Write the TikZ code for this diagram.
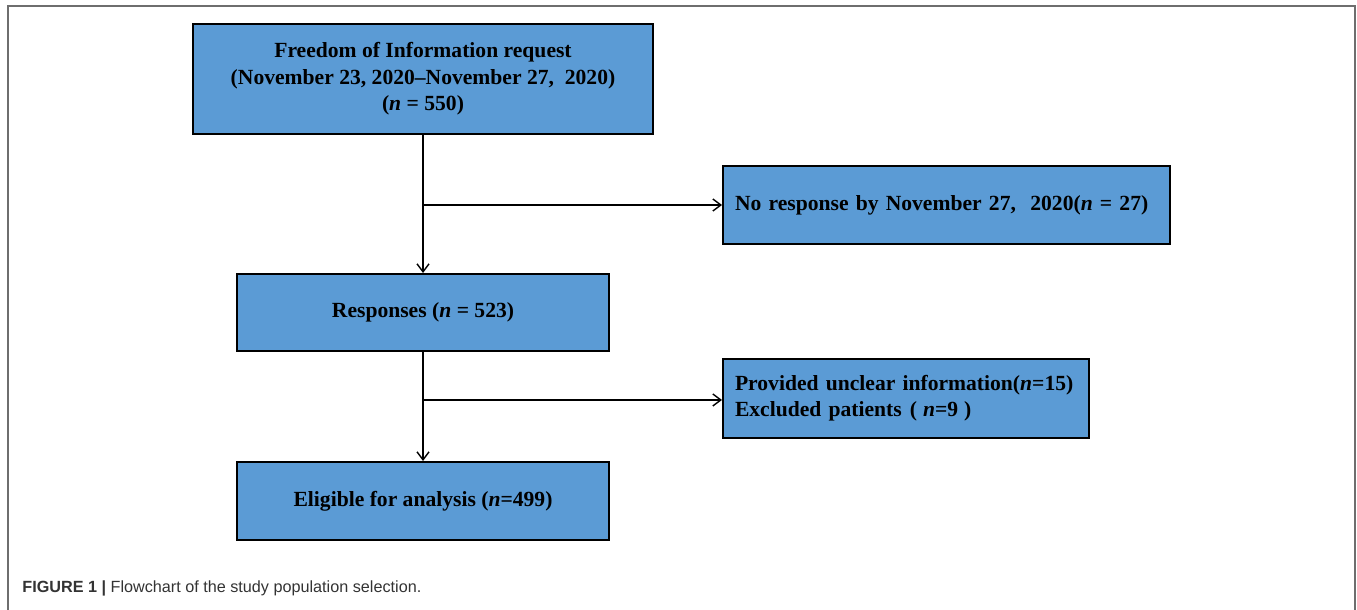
\documentclass[tikz,border=0pt]{standalone}
\usepackage{fontspec}
\setmainfont{Liberation Serif}
\newfontfamily\capfont{Liberation Sans}
\usepackage{tikz}
\usetikzlibrary{positioning,arrows.meta,calc}
\definecolor{boxblue}{RGB}{91,155,213}
\definecolor{framegray}{RGB}{110,110,110}
\tikzset{
  flowbox/.style={draw=black,line width=1pt,fill=boxblue,rectangle,inner sep=0pt,
    font=\bfseries\fontsize{10.8}{13.3}\selectfont},
  flowarrow/.style={line width=0.7pt,-{Straight Barb[length=4pt,width=6pt]}}
}
\begin{document}
\begin{tikzpicture}[x=0.5pt,y=-0.5pt]
\useasboundingbox (0,0) rectangle (1357,610);
\draw[framegray,line width=1pt] (7.5,610) -- (7.5,6.5) -- (1355,6.5) -- (1355,610);
% boxes
\node[flowbox,minimum width=230pt,minimum height=55pt,align=center] (request) at (423,79)
  {Freedom of Information request\\(November 23, 2020--November 27,\ \ 2020)\\(\textit{n} = 550)};
\node[flowbox,minimum width=223.5pt,minimum height=39pt,text width=211.5pt,align=left] (noresp) at (946.5,205)
  {No response by November 27,\ \ 2020(\textit{n} = 27)};
\node[flowbox,minimum width=186pt,minimum height=38.5pt] (responses) at (423,312.5)
  {Responses (\textit{n} = 523)};
\node[flowbox,minimum width=183pt,minimum height=39.5pt,text width=171pt,align=left] (unclear) at (906,398)
  {Provided unclear information(\textit{n}=15)\\Excluded patients\hspace{4pt}(\hspace{3pt}\textit{n}=9\hspace{3pt})};
\node[flowbox,minimum width=186pt,minimum height=39pt] (eligible) at (423,501)
  {Eligible for analysis (\textit{n}=499)};
% connectors
\coordinate (split1) at (request.south |- noresp.west);
\coordinate (split2) at ($(responses.south)!0.44!(eligible.north)$);
\draw[flowarrow] (request.south) -- (responses.north);
\draw[flowarrow] (responses.south) -- (eligible.north);
\draw[flowarrow] (split1) -- (noresp.west);
\draw[flowarrow] (split2) -- (split2 -| unclear.west);
% caption
\node[anchor=base west,inner sep=0pt,font=\capfont\fontsize{8.1}{10}\selectfont,text=black!80] (caption) at (22,592)
  {\textbf{FIGURE 1 |} Flowchart of the study population selection.};
\end{tikzpicture}
\end{document}
